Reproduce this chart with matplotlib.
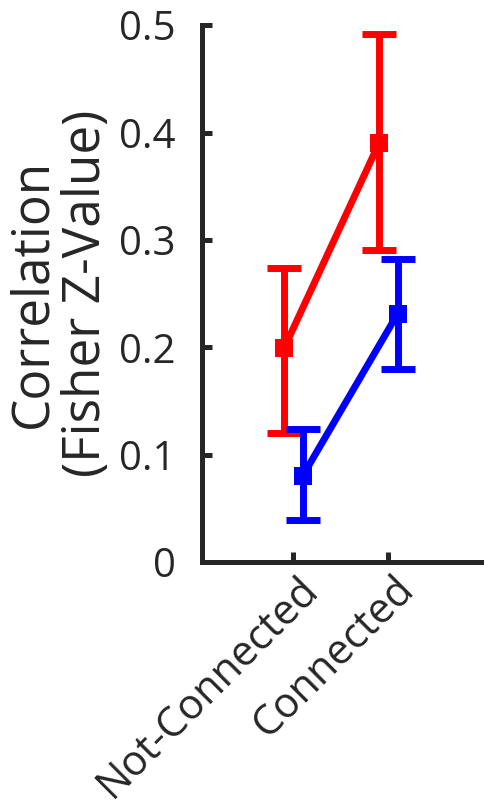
import matplotlib.pyplot as plt
import numpy as np

# datos
categorias = ['Not-Connected', 'Connected']
rojo = [0.199, 0.390]
rojo_sup = [0.274, 0.492]
rojo_inf = [0.120, 0.291]
azul = [0.080, 0.231]
azul_sup = [0.124, 0.282]
azul_inf = [0.039, 0.180]
yticks = [0, 0.1, 0.2, 0.3, 0.4, 0.5]
ytick_labels = ['0', '0.1', '0.2', '0.3', '0.4', '0.5']

plt.rcParams['font.family'] = ['Open Sans', 'DejaVu Sans']

x = np.arange(1, len(categorias) + 1)

fig = plt.figure(figsize=(4.84, 8.11), dpi=100)
ax = fig.add_axes([0.417, 0.307, 0.583, 0.662])


def serie(ax, xs, ys, sup, inf, color):
    ys = np.array(ys)
    err = [ys - np.array(inf), np.array(sup) - ys]
    ax.errorbar(xs, ys, yerr=err, color=color, lw=5, elinewidth=5,
                capsize=12, capthick=5, fmt='none', clip_on=False, zorder=3)
    ax.plot(xs, ys, color=color, lw=5, marker='s', markersize=13.5,
            markeredgewidth=0, clip_on=False, zorder=4)


serie(ax, x - 0.095, rojo, rojo_sup, rojo_inf, '#ff0000')
serie(ax, x + 0.1, azul, azul_sup, azul_inf, '#0000ff')

oscuro = '#262626'

ax.set_xlim(0.04, 3.01)
ax.set_ylim(0, 0.5)
ax.set_yticks(yticks)
ax.set_yticklabels(ytick_labels)
ax.set_xticks(x)
ax.set_xticklabels([])

# etiquetas del eje x giradas, al estilo de MATLAB
for xi, cat in zip(x, categorias):
    ax.annotate(cat, xy=(xi, 0), xycoords=('data', 'axes fraction'),
                xytext=(14, -15), textcoords='offset points',
                rotation=45, ha='right', va='center', rotation_mode='anchor',
                fontsize=30, color=oscuro, annotation_clip=False)

for lado in ['top', 'right']:
    ax.spines[lado].set_visible(False)
for lado in ['left', 'bottom']:
    ax.spines[lado].set_linewidth(3.6)
    ax.spines[lado].set_color(oscuro)
ax.tick_params(direction='in', length=7, width=3.6, color=oscuro,
               labelcolor=oscuro)
ax.tick_params(axis='y', labelsize=29, pad=19)

ax.set_ylabel('Correlation\n(Fisher Z-Value)', fontsize=37, color=oscuro,
              linespacing=1.05)
ax.yaxis.set_label_coords(-0.32, 0.5)

plt.savefig('out.png', dpi=100)
